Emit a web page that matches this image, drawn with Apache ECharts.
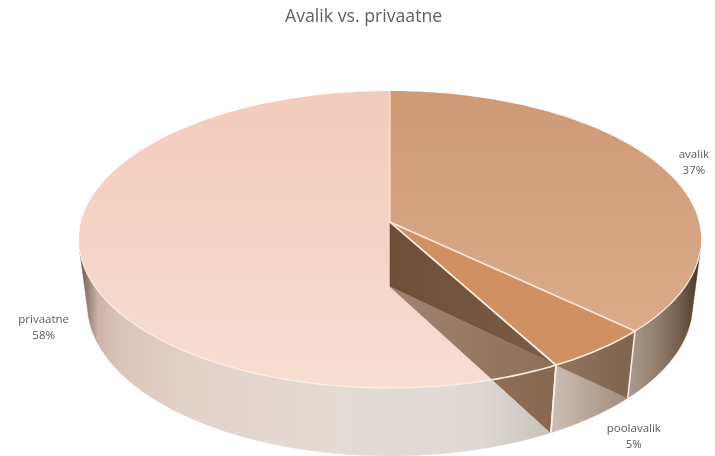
<!DOCTYPE html>
<html>
<head>
<meta charset="utf-8">
<style>html,body{margin:0;padding:0;background:#fff}#chart{width:715px;height:456px}</style>
<script src="https://cdn.jsdelivr.net/npm/echarts@6/dist/echarts.min.js"></script>
</head>
<body>
<div id="chart"></div>
<script>
// Slices, clockwise from twelve o'clock
const categories = ['avalik', 'poolavalik', 'privaatne'];
const shares = [37, 5, 58];

// Perspective camera for the disc: unit circle (u, v) at height z
const CX = 390, CY = 222, SCALE_X = 309, SCALE_Y = 146.4, DEPTH = 66.5;
const PERSP_V = 0.1178, PERSP_Z = 0.028;
const VISIBLE_V = 0.2;   // walls further back than this are hidden by the top face
const EDGE = '#fbeee4';

// Label anchors, relative to the rim point at each slice's mid angle
const labelOffsets = [[33, -3.5], [35, 87], [-38, 68]];

const TAU = Math.PI * 2;
const total = shares.reduce((a, b) => a + b, 0);
const starts = [];
shares.reduce((sum, s, i) => { starts[i] = sum / total * TAU; return sum + s; }, 0);
const ends = starts.map((s, i) => s + shares[i] / total * TAU);

function project(u, v, z) {
  const w = 1 - PERSP_V * v + PERSP_Z * z;
  return [CX + SCALE_X * u / w, CY + (SCALE_Y * v + DEPTH * z) / w];
}
const rim = (a, z) => project(Math.sin(a), -Math.cos(a), z);
const centre = z => project(0, 0, z);
function arc(a0, a1, z) {
  const n = Math.max(2, Math.ceil(Math.abs(a1 - a0) / 0.02));
  const pts = [];
  for (let i = 0; i <= n; i++) pts.push(rim(a0 + (a1 - a0) * i / n, z));
  return pts;
}
function xGradient(x0, x1, stops) {
  return {
    type: 'linear', x: x0, y: 0, x2: x1, y2: 0, global: true,
    colorStops: stops.map(s => ({ offset: s[0], color: s[1] }))
  };
}
function yGradient(y0, y1, c0, c1) {
  return {
    type: 'linear', x: 0, y: y0, x2: 0, y2: y1, global: true,
    colorStops: [{ offset: 0, color: c0 }, { offset: 1, color: c1 }]
  };
}
const poly = (points, fill, z2, stroke, lineWidth) => ({
  type: 'polygon', z2, shape: { points },
  style: { fill, stroke: stroke || fill, lineWidth: lineWidth === undefined ? 0.5 : lineWidth }
});
const line = (points, z2, width) => ({
  type: 'polyline', z2, shape: { points },
  style: { fill: null, stroke: EDGE, lineWidth: width || 1.6 }
});
function wedge(a0, a1) { return [centre(0)].concat(arc(a0, a1, 0)); }
function wall(a0, a1) { return arc(a0, a1, 0).concat(arc(a1, a0, 1)); }
// Arc angle where a radial line from the lower centre crosses the upper rim
function crossing(a0, a1, target) {
  const c = centre(1);
  const side = p => (target[0] - c[0]) * (p[1] - c[1]) - (target[1] - c[1]) * (p[0] - c[0]);
  const s0 = side(rim(a0, 0));
  let lo = a0, hi = a1;
  for (let i = 0; i < 30; i++) {
    const mid = (lo + hi) / 2;
    if (side(rim(mid, 0)) * s0 > 0) lo = mid; else hi = mid;
  }
  return lo;
}
// Arc limits between which a slice's wall faces the viewer
function firstVisible(a0, a1) {
  let a = a0;
  while (a < a1 && -Math.cos(a) < VISIBLE_V) a += 0.002;
  return a;
}
function lastVisible(a0, a1) {
  let a = a1;
  while (a > a0 && -Math.cos(a) < VISIBLE_V) a -= 0.002;
  return a;
}

const painters = {
  avalik(a0, a1) {
    const from = firstVisible(a0, a1);
    return [
      poly(wall(from, a1), xGradient(628, 701, [[0, '#ab9b8d'], [0.35, '#968270'], [0.7, '#75604f'], [0.9, '#56422f'], [1, '#33241a']]), 1),
      poly(wedge(a0, a1), yGradient(91, 335, '#cf9a76', '#dbab8a'), 3, EDGE, 0),
      line([centre(0), rim(a0, 0)], 8, 1),
      line(arc(from, a1, 0), 8, 1.2),
      line([centre(0), rim(a1, 0)], 8),
      line([rim(a1, 0), rim(a1, 1)], 8)
    ];
  },
  poolavalik(a0, a1) {
    const topPts = arc(a0, a1, 0);
    return [
      poly(topPts.concat(arc(a1, a0, 1)), xGradient(551, 626, [[0, '#cabfb5'], [1, '#a58d79']]), 2),
      poly(topPts.concat([rim(a0, 1)]), xGradient(555, 630, [[0, '#93755f'], [1, '#81644e']]), 2.5),
      poly(wedge(a0, a1), '#d09062', 6, EDGE, 0),
      line(topPts, 8),
      line([centre(0), rim(a1, 0)], 8),
      line([rim(a1, 0), rim(a1, 1)], 8)
    ];
  },
  privaatne(a0, a1) {
    const to = lastVisible(a0, a1);
    const R = rim(a0, 0), Rb = rim(a0, 1), A = centre(0), C = centre(1);
    const cross = crossing(a0 + 0.005, a0 + 0.8, Rb);
    return [
      poly(wall(a0, to), xGradient(79, 552, [[0, '#55443b'], [0.014, '#8a756a'], [0.04, '#cdb3a7'], [0.09, '#dcc5ba'], [0.25, '#e2d3cb'], [0.55, '#e4dbd5'], [0.85, '#dfd9d5'], [1, '#c8c2bc']]), 1),
      poly(wedge(a0, a1), yGradient(91, 388, '#f2ccbb', '#f8ddd3'), 3, EDGE, 0),
      poly([A, C, R], xGradient(390, 555, [[0, '#6f4e38'], [1, '#7c5c46']]), 4),
      poly([C, R, Rb], xGradient(390, 555, [[0, '#a08370'], [1, '#8e6d56']]), 4),
      poly(arc(a0, cross, 0).concat([Rb]), xGradient(490, 552, [[0, '#8f6f58'], [1, '#87674f']]), 5),
      line(arc(a0, cross, 0), 8),
      line(arc(cross, to, 0), 7, 1.2),
      line([R, Rb], 8),
      line([A, R], 8)
    ];
  }
};

const labelStyle = { fill: '#5a5a5a', font: '11.5px "Open Sans", sans-serif', align: 'center', verticalAlign: 'middle', lineHeight: 16 };

function renderSlice(params, api) {
  const i = api.value(0);
  const a0 = starts[i], a1 = ends[i];
  const mid = rim((a0 + a1) / 2, 0);
  const off = labelOffsets[i];
  const children = painters[categories[i]](a0, a1);
  children.push({
    type: 'text', z2: 10,
    style: Object.assign({
      x: mid[0] + off[0], y: mid[1] + off[1],
      text: categories[i] + '\n' + Math.round(api.value(1) / total * 100) + '%'
    }, labelStyle)
  });
  return { type: 'group', children };
}

const chart = echarts.init(document.getElementById('chart'), null, { renderer: 'canvas' });
chart.setOption({
  animation: false,
  backgroundColor: '#ffffff',
  title: {
    text: 'Avalik vs. privaatne',
    left: 280, top: 3,
    textStyle: { color: '#606060', fontFamily: '"Open Sans", sans-serif', fontSize: 17.7, fontWeight: 'normal' }
  },
  series: [{
    type: 'custom',
    coordinateSystem: 'none',
    silent: true,
    renderItem: renderSlice,
    data: categories.map((name, i) => ({ name, value: [i, shares[i]] }))
  }]
});
</script>
</body>
</html>
